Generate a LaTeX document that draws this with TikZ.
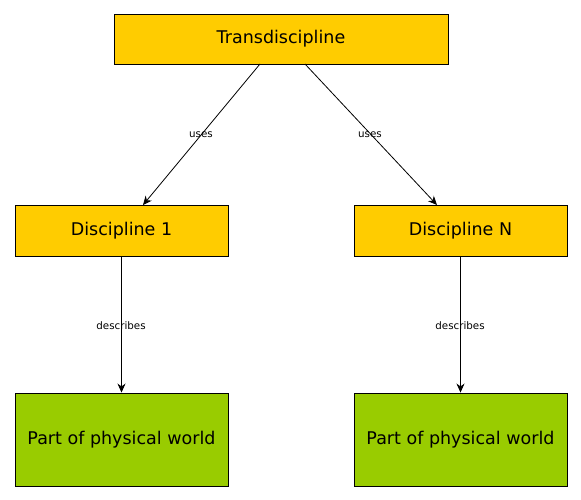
\documentclass[tikz,border=0pt]{standalone}
\usepackage{fontspec}
\setmainfont{DejaVu Sans}
\usetikzlibrary{arrows.meta}
\definecolor{boxyellow}{HTML}{FFCC00}
\definecolor{boxgreen}{HTML}{99CC00}
\begin{document}
\begin{tikzpicture}[x=1pt,y=-1pt,
  ybox/.style={draw=black, line width=0.9pt, fill=boxyellow, minimum width=334pt, minimum height=50pt, font=\fontsize{17.5}{20}\selectfont, inner sep=0pt},
  dbox/.style={draw=black, line width=0.9pt, fill=boxyellow, minimum width=213pt, minimum height=51pt, font=\fontsize{17.5}{20}\selectfont, inner sep=0pt},
  gbox/.style={draw=black, line width=0.9pt, fill=boxgreen, minimum width=213pt, minimum height=93pt, font=\fontsize{17.5}{20}\selectfont, inner sep=0pt},
  conn/.style={draw=black, line width=0.8pt, -{Stealth[length=9pt,width=8pt]}},
  lbl/.style={font=\fontsize{10.3}{12}\selectfont, inner sep=0pt}
]
\useasboundingbox[fill=white] (0,0) rectangle (581,500);
\node[ybox] (trans) at (281,39) {Transdiscipline};
\node[dbox] (d1) at (121.5,230.5) {Discipline 1};
\node[dbox] (dn) at (460.5,230.5) {Discipline N};
\node[gbox] (p1) at (121.5,439.5) {Part of physical world};
\node[gbox] (pn) at (460.5,439.5) {Part of physical world};
\coordinate (t1) at (260,64);
\coordinate (t2) at (305,64);
\coordinate (e1) at (143,205);
\coordinate (e2) at (437,205);
\draw[conn] (t1) -- (e1);
\draw[conn] (t2) -- (e2);
\node[lbl] (u1) at (201,135) {uses};
\node[lbl] (u2) at (370,135) {uses};
\draw[conn] (d1.south) -- (p1.north);
\draw[conn] (dn.south) -- (pn.north);
\node[lbl] (ds1) at (121,326) {describes};
\node[lbl] (ds2) at (460,326) {describes};
\end{tikzpicture}
\end{document}
